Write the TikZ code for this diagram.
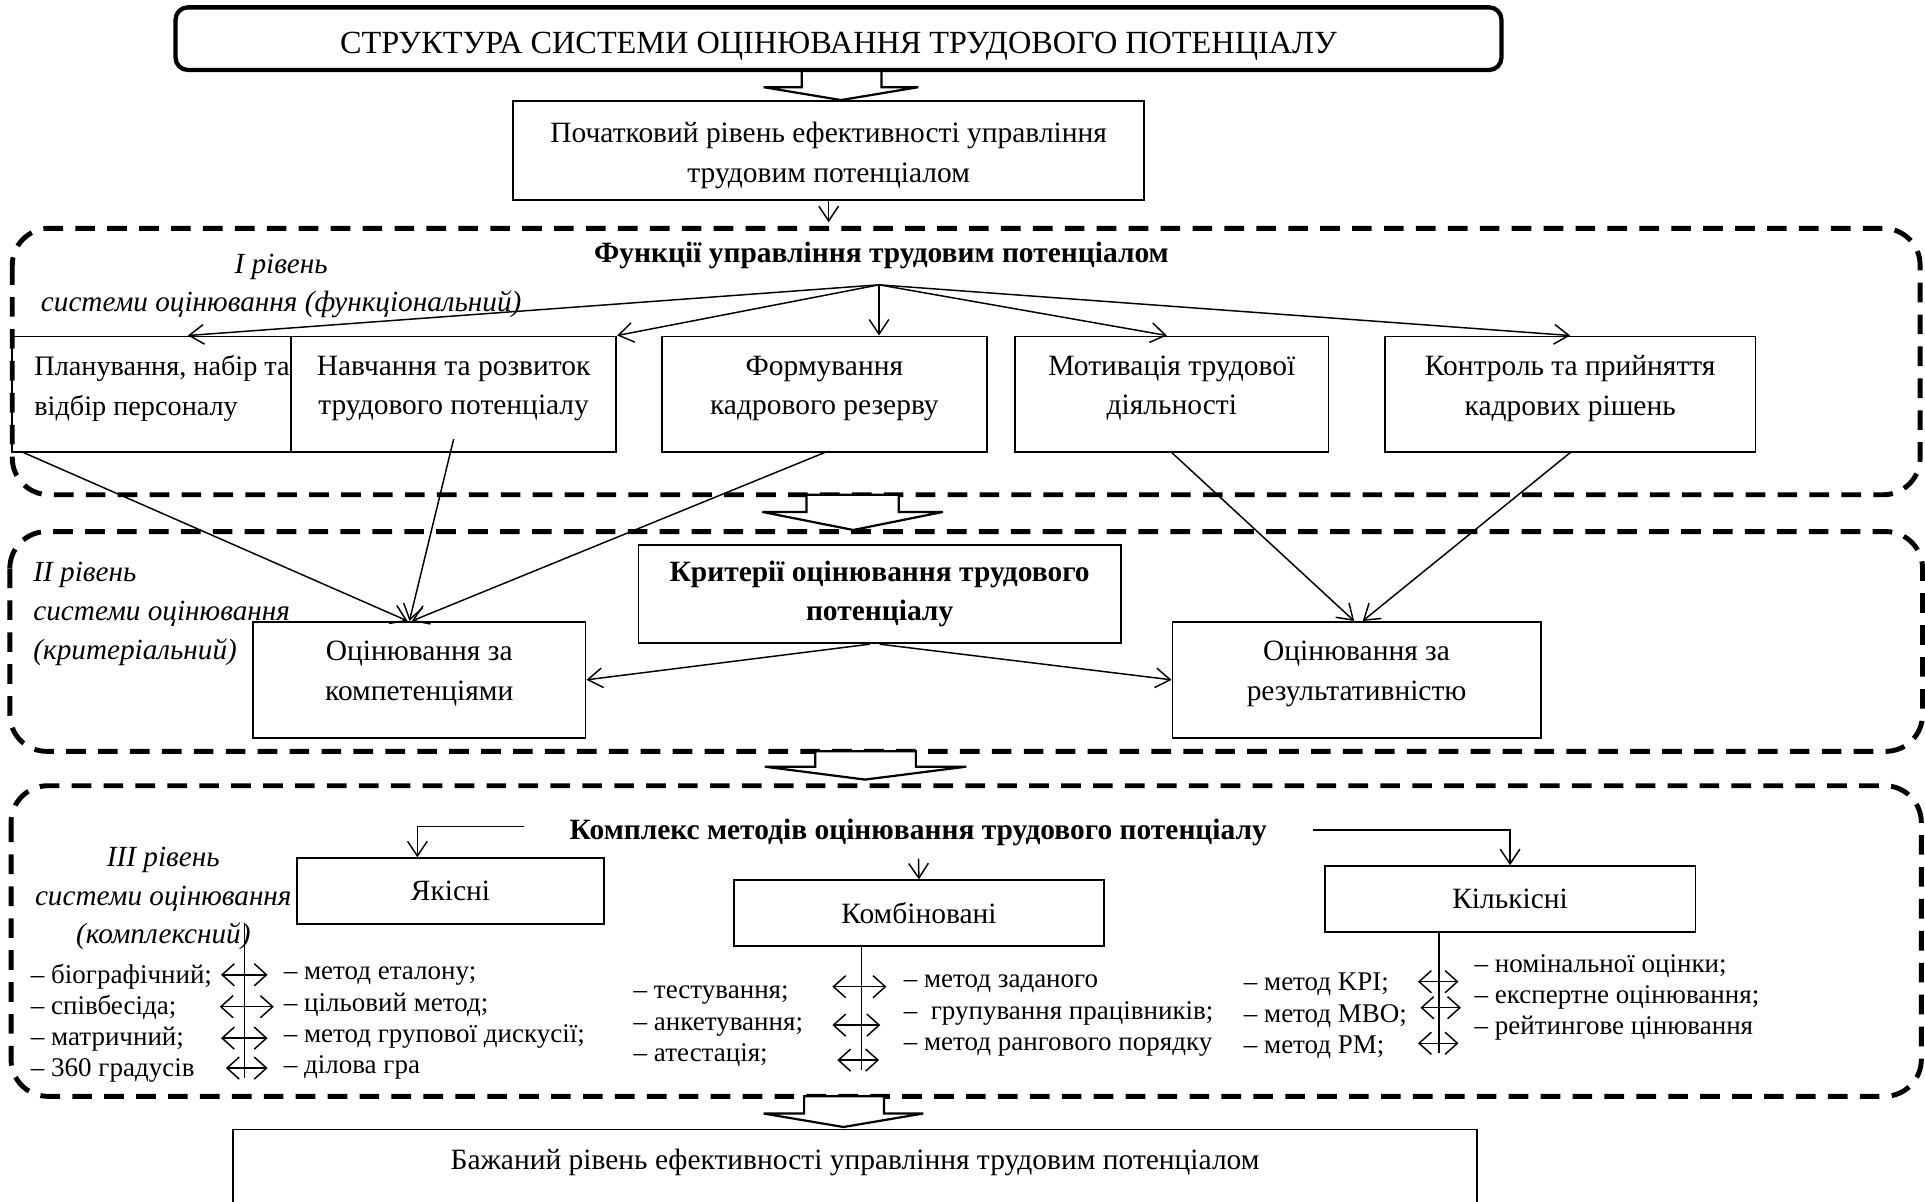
\documentclass[tikz,border=0pt]{standalone}
\usepackage{fontspec}
\setmainfont{Liberation Serif}
\usetikzlibrary{arrows.meta,calc}
\newcommand\mainfs{\fontsize{24}{32}\selectfont}
\newcommand\planfs{\fontsize{23}{32}\selectfont}
\newcommand\bffs{\fontsize{24}{32}\selectfont\bfseries}
\newcommand\itfs{\fontsize{23.8}{31.5}\selectfont\itshape}
\newcommand\listfs{\fontsize{22}{25.5}\selectfont}
\newcommand\titlefs{\fontsize{26.3}{30}\selectfont}
\newcommand\dnx[1]{\rule[-#1pt]{0pt}{#1pt}}
\newcommand\upx[1]{\rule{0pt}{#1pt}}
\begin{document}
\begin{tikzpicture}[x=1pt,y=-1pt,
  box/.style={draw, line width=1.4pt, inner sep=2pt, align=center, font=\mainfs},
  lbl/.style={font=\itfs, align=center, inner sep=0pt},
  region/.style={draw, line width=4pt, dash pattern=on 16pt off 10pt, rounded corners=30pt},
  thinline/.style={line width=1.1pt},
  arr/.style={line width=1.2pt, -{Straight Barb[length=12pt,width=16pt]}},
  dbl/.style={line width=1.2pt, {Straight Barb[length=10pt,width=18pt]}-{Straight Barb[length=10pt,width=18pt]}},
  hollow/.style={draw, fill=white, line width=1.8pt, line join=miter},
  lst/.style={font=\listfs, align=left, inner sep=0pt, anchor=west}]
\useasboundingbox (0,0) rectangle (1568,979);
\clip (0,0) rectangle (1568,979);

% level regions
\draw[region] (10,186) rectangle (1564,403);
\draw[region] (8,433) rectangle (1566,612);
\draw[region] (9,640) rectangle (1565,893);

% hollow arrows
\draw[hollow] (653,57) -- (653,71) -- (622,71) -- (685,81.5) -- (748,71) -- (718,71) -- (718,57) -- cycle;
\draw[hollow] (657,403) -- (657,417) -- (621,417) -- (695,431.7) -- (768,417) -- (732,417) -- (732,403) -- cycle;
\draw[hollow] (664,612) -- (664,624.5) -- (623,624.5) -- (704.6,635) -- (787,624.5) -- (746,624.5) -- (746,612) -- cycle;
\draw[hollow] (655,893) -- (655,907) -- (622,907) -- (687,918) -- (752,907) -- (720,907) -- (720,893) -- cycle;

% top
\node[box, line width=3.5pt, rounded corners=10pt, minimum width=1080, minimum height=51, font=\titlefs] (title) at (683,31.5) {\upx{29}СТРУКТУРА СИСТЕМИ ОЦІНЮВАННЯ ТРУДОВОГО ПОТЕНЦІАЛУ};
\node[box, minimum width=514, minimum height=81] (start) at (675,122.5) {\upx{25}Початковий рівень ефективності управління\\трудовим потенціалом};
\coordinate (r1top) at (675,181);
\draw[arr] (start.south) -- (r1top);

% level I
\node[lbl] (l1) at (229,233) {I рівень\\системи оцінювання (функціональний)};
\node[font=\bffs, inner sep=0pt] (func) at (718,208) {Функції управління трудовим потенціалом};
\coordinate (fan) at (716,232);
\node[box, minimum width=227, minimum height=94, align=left, inner xsep=0pt, font=\planfs] (plan) at (123.5,321) {\hspace*{17pt}Планування, набір та\\\hspace*{17pt}відбір персоналу\dnx{14}};
\node[box, minimum width=265, minimum height=94] (nav) at (369.5,321) {Навчання та розвиток\\трудового потенціалу\dnx{14}};
\node[box, minimum width=265, minimum height=94] (form) at (671.5,321) {Формування\\кадрового резерву\dnx{14}};
\node[box, minimum width=255, minimum height=94] (motiv) at (954.5,321) {Мотивація трудової\\діяльності\dnx{14}};
\node[box, minimum width=302, minimum height=94] (contr) at (1279,321) {Контроль та прийняття\\кадрових рішень\dnx{14}};

\draw[arr] (fan) -- ([xshift=29.5pt]plan.north);
\draw[arr] (fan) -- (nav.north east);
\draw[arr] (fan) -- (fan |- form.north);
\draw[arr] (fan) -- ([xshift=-4pt]motiv.north);
\draw[arr] (fan) -- (contr.north);

% level II
\node[lbl, align=left, anchor=west] (l2) at (27,500) {II рівень\\системи оцінювання\\(критеріальний)};
\node[box, minimum width=393, minimum height=80, font=\bffs] (crit) at (716.5,484) {Критерії оцінювання трудового\\потенціалу};
\node[box, minimum width=271, minimum height=94.5] (comp) at (341.5,553.75) {Оцінювання за\\компетенціями\dnx{15}};
\node[box, minimum width=300, minimum height=94.5] (res) at (1105,553.75) {Оцінювання за\\результативністю\dnx{15}};

\draw[arr] ([xshift=10pt]plan.south west) -- ([xshift=-9.5pt]comp.north);
\draw[arr] ([yshift=11pt]nav.south) -- ([xshift=-8pt]comp.north);
\draw[arr] (form.south) -- ([xshift=-6pt]comp.north);
\draw[arr] (motiv.south) -- ([xshift=-2pt]res.north);
\draw[arr] (contr.south) -- ([xshift=5pt]res.north);
\draw[arr] ([xshift=-8pt]crit.south) -- (comp.east);
\draw[arr] (crit.south) -- (res.west);

% level III
\node[lbl] (l3) at (133,732) {III рівень\\системи оцінювання\\(комплексний)};
\node[font=\bffs] (kompl) at (748,678) {Комплекс методів оцінювання трудового потенціалу};
\node[box, minimum width=250, minimum height=53.6] (yak) at (367,725.8) {Якісні};
\node[box, minimum width=301, minimum height=53.5] (komb) at (748.5,743.75) {Комбіновані};
\node[box, minimum width=302, minimum height=53.6] (kil) at (1230,732.2) {Кількісні};

\draw[arr] ([xshift=-34pt,yshift=5pt]kompl.west) -| ([xshift=-27pt]yak.north);
\draw[arr] ([xshift=34pt,yshift=2pt]kompl.east) -| (kil.north);
\draw[arr, shorten <=7pt] (kompl.south) -- (komb.north);

\coordinate (yv1) at (199,752);
\coordinate (yv2) at (199,878);
\draw[thinline] (yv1) -- (yv2);
\coordinate (kv2) at (701.5,871.6);
\draw[thinline] ([xshift=-47pt]komb.south) -- (kv2);
\coordinate (qv2) at (1172,858);
\draw[thinline] ([xshift=-58pt]kil.south) -- (qv2);

\draw[dbl] (180,794) -- (218,794);
\draw[dbl] (179,820) -- (223,820);
\draw[dbl] (180,845.6) -- (218,845.6);
\draw[dbl] (184,870) -- (218,870);
\draw[dbl] (678,803.7) -- (722,803.7);
\draw[dbl] (678,835) -- (717,835);
\draw[dbl] (682,863.5) -- (716,863.5);
\draw[dbl] (1155,799.6) -- (1188,799.6);
\draw[dbl] (1157,820.8) -- (1190,820.8);
\draw[dbl] (1155,849.8) -- (1188,849.8);

\node[lst] (yakL) at (25,833.5) {– біографічний;\\– співбесіда;\\– матричний;\\– 360 градусів};
\node[lst] (yakR) at (231,833.5) {– метод еталону;\\– цільовий метод;\\– метод групової дискусії;\\– ділова гра};
\node[lst] (kombL) at (516,836) {– тестування;\\– анкетування;\\– атестація;};
\node[lst] (kombR) at (736,827.3) {– метод заданого\\–\ \ групування працівників;\\– метод рангового порядку};
\node[lst] (kilL) at (1013,827.5) {– метод KPI;\\– метод MBO;\\– метод PM;};
\node[lst] (kilR) at (1201,812.5) {– номінальної оцінки;\\– експертне оцінювання;\\– рейтингове цінювання};

% bottom
\node[box, minimum width=1013, minimum height=80] (want) at (696.5,960) {Бажаний рівень ефективності управління трудовим потенціалом\dnx{31}};
\end{tikzpicture}
\end{document}
